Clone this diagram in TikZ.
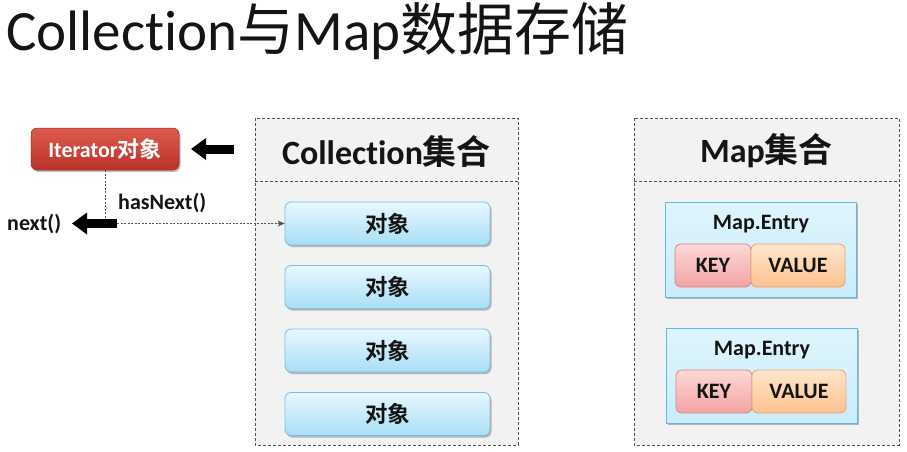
\documentclass[tikz,border=0pt]{standalone}
\usepackage{fontspec}
\setmainfont{Carlito}[Ligatures={NoCommon,NoRare}, Contextuals=NoAlternate]
\newfontfamily\cjk{Noto Sans CJK SC}[BoldFont={Noto Sans CJK SC Bold}]
\usetikzlibrary{arrows.meta,shadows}
\definecolor{txt}{HTML}{141414}
\definecolor{contfill}{HTML}{F3F2F2}
\definecolor{contline}{HTML}{505050}
\definecolor{objtop}{HTML}{E8F8FE}
\definecolor{objbot}{HTML}{A8DEF5}
\definecolor{objline}{HTML}{74BFE2}
\definecolor{entfill}{HTML}{C9EDFB}
\definecolor{entline}{HTML}{62B8E0}
\definecolor{keytop}{HTML}{FDD8D8}
\definecolor{keybot}{HTML}{F3A3A3}
\definecolor{keyline}{HTML}{D98585}
\definecolor{valtop}{HTML}{FFE6CC}
\definecolor{valbot}{HTML}{FDC18E}
\definecolor{valline}{HTML}{E3A474}
\definecolor{ittop}{HTML}{DE5A4E}
\definecolor{itbot}{HTML}{B93228}
\tikzset{
  x=1pt, y=-1pt,
  container/.style={draw=contline, densely dashed, line width=0.8pt, fill=contfill},
  shad/.style={drop shadow={shadow xshift=1.5pt, shadow yshift=-2pt, fill=black, opacity=0.25}},
  objbox/.style={rounded corners=6pt, draw=objline, line width=0.8pt, top color=objtop, bottom color=objbot, shad,
    minimum width=205pt, minimum height=43pt, inner sep=0pt, font=\fontsize{22.5}{26}\selectfont\bfseries\cjk, text=txt},
  entbox/.style={draw=entline, line width=0.8pt, top color=entfill!60!white, bottom color=entfill, shad,
    minimum width=191pt, minimum height=95pt, inner sep=0pt},
  keybox/.style={rounded corners=6pt, draw=keyline, line width=0.8pt, top color=keytop, bottom color=keybot,
    minimum width=76pt, minimum height=43pt, inner sep=0pt, font=\fontsize{22}{26}\selectfont\bfseries, text=txt},
  valbox/.style={rounded corners=6pt, draw=valline, line width=0.8pt, top color=valtop, bottom color=valbot,
    minimum width=94pt, minimum height=43pt, inner sep=0pt, font=\fontsize{22}{26}\selectfont\bfseries, text=txt},
  lbl/.style={font=\fontsize{22}{26}\selectfont\bfseries, text=txt, inner sep=0pt},
  hdr/.style={font=\fontsize{34}{38}\selectfont\bfseries, text=txt, inner sep=0pt},
  bigarrow/.style={line width=9pt, -{Triangle[length=15pt,width=21pt]}},
  dotline/.style={draw=contline, line width=0.9pt, dash pattern=on 2pt off 1.5pt},
}
\begin{document}
\begin{tikzpicture}
\useasboundingbox (0,0) rectangle (907,452);
% title
\node[anchor=base west, inner sep=0pt, font=\fontsize{57}{60}\selectfont, text=txt] (title) at (6,51) {Collection{\cjk 与}Map{\cjk 数据存储}};
% containers
\path[container] (255,118) rectangle (518,445);
\draw[container, fill=none] (255,181) -- (518,181);
\path[container] (634,118) rectangle (899,445);
\draw[container, fill=none] (634,181) -- (899,181);
\node[hdr] (chdr) at (386.5,151) {Collection{\cjk 集合}};
\node[hdr] (mhdr) at (766.5,151) {Map{\cjk 集合}};
% objects
\node[objbox] (o1) at (387.5,223.5) {对象};
\node[objbox] (o2) at (387.5,287) {对象};
\node[objbox] (o3) at (387.5,350.5) {对象};
\node[objbox] (o4) at (387.5,414) {对象};
% map entries
\node[entbox] (e1) at (761,249.5) {};
\node[lbl] (e1t) at (761,224) {Map.Entry};
\node[keybox] (k1) at (713,265.5) {KEY};
\node[valbox] (v1) at (798,265.5) {VALUE};
\node[entbox] (e2) at (762,375.5) {};
\node[lbl] (e2t) at (762,350) {Map.Entry};
\node[keybox] (k2) at (714,391.5) {KEY};
\node[valbox] (v2) at (799,391.5) {VALUE};
% iterator
\node[rounded corners=6pt, top color=ittop, bottom color=itbot, draw=itbot!80!black, line width=0.5pt, shad,
  minimum width=148pt, minimum height=42pt, inner sep=0pt, text=white,
  font=\fontsize{22}{26}\selectfont\bfseries] (it) at (105,149) {Iterator{\cjk 对象}};
\coordinate (a1tail) at (234,149);
\coordinate (a1tip) at (191,149);
\draw[bigarrow] (a1tail) -- (a1tip);
\coordinate (nxt) at (117,223.5);
\coordinate (nxtip) at (72,223.5);
\draw[dotline] (it.south) -- (it.south |- nxt);
\draw[dotline, -{Stealth[length=7pt,width=6pt]}] (nxt) -- (o1.west);
\draw[bigarrow] (nxt) -- (nxtip);
\node[lbl, anchor=west] (nxl) at (7,224) {next()};
\node[lbl, anchor=west] (hnl) at (118,203) {hasNext()};
\end{tikzpicture}
\end{document}
